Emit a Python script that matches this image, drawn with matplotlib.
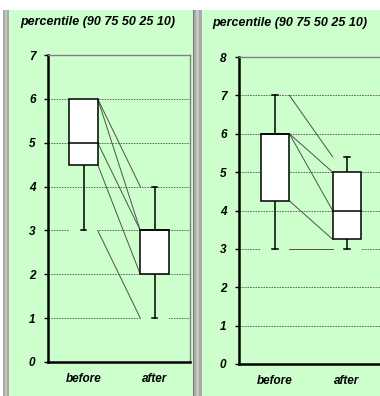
import matplotlib
matplotlib.use("Agg")
import matplotlib.pyplot as plt
from matplotlib.patches import Rectangle

# ---- data ----
categories = ["before", "after"]
title_text = "percentile (90 75 50 25 10)"

left_p90 = [6, 4]
left_p75 = [6, 3]
left_p50 = [5, 3]
left_p25 = [4.5, 2]
left_p10 = [3, 1]
left_yticks = [0, 1, 2, 3, 4, 5, 6, 7]

right_p90 = [7, 5.4]
right_p75 = [6, 5]
right_p50 = [6, 4]
right_p25 = [4.25, 3.25]
right_p10 = [3, 3]
right_yticks = [0, 1, 2, 3, 4, 5, 6, 7, 8]

W, H = 380, 396
GREEN = "#ccffcc"
fig = plt.figure(figsize=(W / 100, H / 100), dpi=100)
fig.patch.set_facecolor("white")
plt.rcParams["font.family"] = ["Liberation Sans", "DejaVu Sans"]


def prect(x0, y0, x1, y1, color, z=0):
    # pixel coords, y from top
    r = Rectangle((x0 / W, 1 - y1 / H), (x1 - x0) / W, (y1 - y0) / H,
                  transform=fig.transFigure, facecolor=color, edgecolor="none",
                  zorder=z)
    fig.add_artist(r)


# panels
prect(9, 10, 193, 396, GREEN)
prect(202, 10, 380, 396, GREEN)
# gray separators
prect(3, 10, 9, 396, "#a9a9a9")
prect(5, 10, 7, 396, "#c4c4c4")
prect(193, 10, 202, 396, "#a9a9a9")
prect(193, 10, 194, 396, "#7a7a7a")
prect(196, 10, 199, 396, "#c8c8c8")


def make_axes(x0, y0, x1, y1):
    return fig.add_axes([x0 / W, 1 - y1 / H, (x1 - x0) / W, (y1 - y0) / H])


def draw_panel(ax, p90, p75, p50, p25, p10, yticks):
    ax.set_facecolor(GREEN)
    ax.set_xlim(0, 2)
    ax.set_ylim(yticks[0], yticks[-1])
    xs = [0.5 + i for i in range(len(categories))]
    hw = 0.2
    cap = 0.04
    # gridlines
    for y in yticks[1:-1]:
        ax.axhline(y, color="#555555", lw=0.6, ls=(0, (2, 1.2)), zorder=1)
    # connecting lines
    for pct in (p90, p75, p50, p25, p10):
        ax.plot([xs[0] + hw, xs[1] - hw], [pct[0], pct[1]],
                color="#505050", lw=0.7, zorder=2)
    for i, x in enumerate(xs):
        # gap in gridline at 10th percentile level
        ax.plot([x - hw, x + hw], [p10[i], p10[i]], color=GREEN, lw=1.5,
                zorder=1.5, solid_capstyle="butt")
        # whiskers
        if p90[i] > p75[i]:
            ax.plot([x, x], [p75[i], p90[i]], color="black", lw=1.1, zorder=3)
            ax.plot([x - cap, x + cap], [p90[i], p90[i]], color="black", lw=1.1, zorder=3)
        if p10[i] < p25[i]:
            ax.plot([x, x], [p10[i], p25[i]], color="black", lw=1.1, zorder=3)
            ax.plot([x - cap, x + cap], [p10[i], p10[i]], color="black", lw=1.1, zorder=3)
        # box
        ax.add_patch(Rectangle((x - hw, p25[i]), 2 * hw, p75[i] - p25[i],
                               facecolor="white", edgecolor="black", lw=1.1, zorder=4))
        ax.plot([x - hw, x + hw], [p50[i], p50[i]], color="black", lw=1.1, zorder=5)
    ax.set_yticks(yticks)
    ax.set_yticklabels([str(t) for t in yticks], fontsize=8.5,
                       fontweight="bold", fontstyle="italic")
    ax.set_xticks(xs)
    ax.set_xticklabels(categories, fontsize=8.5, fontweight="bold", fontstyle="italic")
    ax.tick_params(axis="y", direction="out", length=3, width=1, pad=6)
    ax.tick_params(axis="x", length=0, pad=8)
    for s in ("left", "bottom"):
        ax.spines[s].set_linewidth(1.8)
        ax.spines[s].set_color("black")
    for s in ("top", "right"):
        ax.spines[s].set_linewidth(1.0)
        ax.spines[s].set_color("#808080")


axL = make_axes(48, 55, 190, 362)
draw_panel(axL, left_p90, left_p75, left_p50, left_p25, left_p10, left_yticks)
axR = make_axes(239, 57, 383, 364)
draw_panel(axR, right_p90, right_p75, right_p50, right_p25, right_p10, right_yticks)

fig.text(98 / W, 1 - 22 / H, title_text, ha="center", va="center", fontsize=9,
         fontweight="bold", fontstyle="italic")
fig.text(290 / W, 1 - 23 / H, title_text, ha="center", va="center", fontsize=9,
         fontweight="bold", fontstyle="italic")

fig.savefig("out.png", dpi=100)
